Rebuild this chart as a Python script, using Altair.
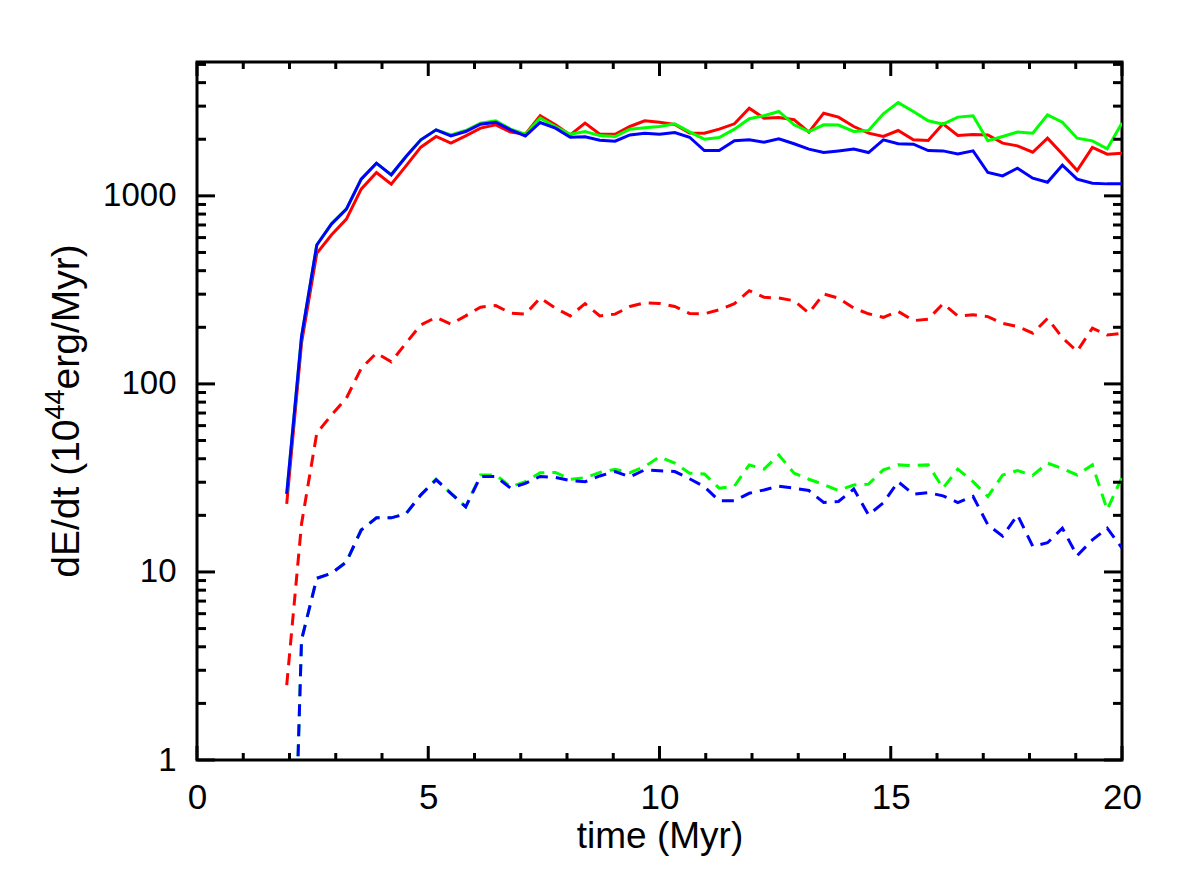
import altair as alt
import pandas as pd

# Simulation output times (Myr)
time_myr = [1.94, 2.26, 2.59, 2.91, 3.23, 3.55, 3.88, 4.20, 4.52, 4.84,
            5.17, 5.49, 5.81, 6.13, 6.46, 6.78, 7.10, 7.42, 7.75, 8.07,
            8.39, 8.71, 9.04, 9.36, 9.68, 10.00, 10.33, 10.65, 10.97, 11.29,
            11.62, 11.94, 12.26, 12.58, 12.91, 13.23, 13.55, 13.87, 14.20, 14.52,
            14.84, 15.16, 15.49, 15.81, 16.13, 16.45, 16.78, 17.10, 17.42, 17.74,
            18.07, 18.39, 18.71, 19.03, 19.36, 19.68, 20.00]

# Energy injection rates, dE/dt in 1e44 erg/Myr
red_solid = [23, 165, 495, 621, 752, 1086, 1331, 1154, 1444, 1815,
             2069, 1907, 2084, 2291, 2387, 2183, 2127, 2665, 2387, 2109,
             2437, 2127, 2127, 2338, 2506, 2464, 2395, 2160, 2154, 2263,
             2416, 2926, 2589, 2610, 2538, 2183, 2752, 2623, 2338, 2154,
             2069, 2225, 1986, 1969, 2416, 2095, 2120, 2109, 1907, 1845,
             1706, 2027, 1671, 1364, 1808, 1666, 1686]
green_solid = [26, 178, 548, 710, 850, 1227, 1492, 1294, 1618, 1986,
               2244, 2109, 2225, 2437, 2506, 2263, 2127, 2589, 2338, 2127,
               2199, 2092, 2069, 2263, 2301, 2338, 2416, 2190, 2001, 2042,
               2263, 2570, 2665, 2811, 2387, 2199, 2387, 2378, 2199, 2225,
               2730, 3133, 2811, 2506, 2405, 2623, 2665, 1962, 2069, 2183,
               2154, 2698, 2464, 2027, 1962, 1778, 2437]
blue_solid = [26, 178, 548, 710, 850, 1227, 1492, 1294, 1618, 1986,
              2244, 2084, 2199, 2405, 2464, 2244, 2084, 2455, 2291, 2051,
              2060, 1977, 1953, 2109, 2154, 2127, 2173, 2050, 1742, 1742,
              1962, 1986, 1930, 2010, 1892, 1772, 1699, 1734, 1772, 1699,
              1986, 1892, 1884, 1742, 1734, 1671, 1734, 1331, 1277, 1403,
              1242, 1182, 1455, 1227, 1167, 1158, 1158]
red_dashed = [2.5, 18, 54.7, 68.4, 84, 121, 146, 131, 165, 206,
              226, 208, 230, 256, 261, 238, 235, 286, 253, 230,
              267, 230, 235, 258, 270, 268, 258, 237, 236, 248,
              267, 313, 289, 286, 277, 238, 301, 286, 253, 236,
              226, 243, 217, 221, 267, 230, 233, 228, 210, 202,
              186, 223, 176, 149, 198, 182, 186]
green_dashed = [0.01, 4.35, 9.25, 9.84, 11.3, 16.7, 19.4, 19.4, 20.4, 25.7,
                31.2, 26.2, 22.2, 32.8, 32.8, 28.4, 30.2, 33.7, 33.8, 31.1,
                31.7, 33.8, 35.2, 33.7, 36.3, 41.0, 37.9, 33.5, 33.2, 27.9,
                28.6, 37.1, 35.2, 41.9, 33.5, 31.1, 29.2, 27.1, 29.0, 29.3,
                34.9, 37.1, 36.8, 37.1, 27.9, 35.2, 30.2, 25.2, 32.8, 34.6,
                32.6, 37.9, 35.5, 32.8, 37.1, 21.4, 31.9]
blue_dashed = [0.01, 4.35, 9.25, 9.84, 11.3, 16.7, 19.4, 19.4, 20.4, 25.7,
               30.9, 26.2, 22.2, 32.2, 32.2, 27.9, 29.6, 32.2, 31.8, 30.6,
               30.2, 32.4, 34.2, 32.0, 34.9, 34.5, 34.2, 31.3, 28.4, 23.9,
               23.9, 26.2, 27.3, 28.6, 27.9, 27.1, 23.4, 23.7, 27.6, 20.1,
               23.3, 30.2, 25.9, 26.4, 25.4, 23.4, 25.2, 17.8, 15.5, 20.1,
               13.7, 14.3, 17.1, 12.2, 14.8, 17.1, 13.4]

# Tick positions
x_major = [0, 5, 10, 15, 20]
x_minor = [1, 2, 3, 4, 6, 7, 8, 9, 11, 12, 13, 14, 16, 17, 18, 19]
y_major = [1, 10, 100, 1000]
y_minor = [2, 3, 4, 5, 6, 7, 8, 9,
           20, 30, 40, 50, 60, 70, 80, 90,
           200, 300, 400, 500, 600, 700, 800, 900,
           2000, 3000, 4000, 5000]

# y-axis title pieces: main text, superscript exponent, main text
title_head = "dE/dt (10"
title_exp = "44"
title_tail = "erg/Myr)"

DASH = [12, 8]
series = [
    ("red_solid", red_solid, "#ff0000", None),
    ("green_solid", green_solid, "#00ff00", None),
    ("blue_solid", blue_solid, "#0000ff", None),
    ("red_dashed", red_dashed, "#ff0000", DASH),
    ("green_dashed", green_dashed, "#00ff00", DASH),
    ("blue_dashed", blue_dashed, "#0000ff", DASH),
]

rows = []
for name, vals, _, _ in series:
    for t, v in zip(time_myr, vals):
        rows.append({"time": t, "dEdt": v, "series": name})
df = pd.DataFrame(rows)

W, H = 925, 698
FONT = "Liberation Sans"

xscale = alt.Scale(domain=[0, 20], nice=False, zero=False)
yscale = alt.Scale(type="log", domain=[1, 5150], nice=False)

x_axis = alt.Axis(values=x_major, format="d", grid=False, domain=False,
                  ticks=False, tickSize=0, labelFlush=False, labelFont=FONT,
                  labelFontSize=35, labelPadding=20, labelColor="black",
                  title="time (Myr)", titleFont=FONT, titleFontSize=37,
                  titleFontWeight="normal", titleColor="black",
                  titleX=W / 2, titleY=76, titleBaseline="middle",
                  titleAlign="center")
y_axis = alt.Axis(values=y_major, format="d", grid=False, domain=False,
                  ticks=False, tickSize=0, labelFlush=False, labelFont=FONT,
                  labelFontSize=33, labelPadding=21, labelColor="black",
                  title="")

X = alt.X("time:Q", scale=xscale, axis=x_axis)
Y = alt.Y("dEdt:Q", scale=yscale, axis=y_axis)

layers = []
for name, _, color, dash in series:
    kw = dict(color=color, strokeWidth=3, clip=True)
    if dash:
        kw["strokeDash"] = dash
    layers.append(
        alt.Chart(df).transform_filter(alt.datum.series == name)
        .mark_line(**kw).encode(x=X, y=Y)
    )

# Inward-pointing ticks on all four sides of the frame
def xticks(vals, length):
    d = pd.DataFrame({"time": vals})
    base = alt.Chart(d).mark_rule(color="black", strokeWidth=3)
    return [
        base.encode(x=X, y=alt.value(H), y2=alt.value(H - length)),
        base.encode(x=X, y=alt.value(0), y2=alt.value(length)),
    ]

def yticks(vals, length):
    d = pd.DataFrame({"dEdt": vals})
    base = alt.Chart(d).mark_rule(color="black", strokeWidth=3)
    return [
        base.encode(y=Y, x=alt.value(0), x2=alt.value(length)),
        base.encode(y=Y, x=alt.value(W), x2=alt.value(W - length)),
    ]

ticks = (xticks(x_major, 14) + xticks(x_minor, 7)
         + yticks(y_major, 18) + yticks(y_minor, 9))

# Rotated y-axis title with a raised exponent (Arial/Liberation metrics)
F_MAIN, F_EXP = 39, 27
w_head = 4.058 * F_MAIN
w_exp = 1.112 * F_EXP
w_tail = 3.722 * F_MAIN
start = H / 2 + (w_head + w_exp + w_tail) / 2
base_x = -118
one = pd.DataFrame({"k": [0]})

def title_piece(text, size, x, y):
    return alt.Chart(one).mark_text(
        text=text, font=FONT, fontSize=size, angle=270, align="left",
        baseline="alphabetic", color="black"
    ).encode(x=alt.value(x), y=alt.value(y))

title_layers = [
    title_piece(title_head, F_MAIN, base_x, start),
    title_piece(title_exp, F_EXP, base_x - 15, start - w_head),
    title_piece(title_tail, F_MAIN, base_x, start - w_head - w_exp),
]

chart = (
    alt.layer(*layers, *ticks, *title_layers)
    .properties(width=W, height=H, background="white",
                autosize=alt.AutoSizeParams(type="none"),
                padding={"left": 197, "top": 62, "right": 58, "bottom": 126})
    .configure_view(stroke="black", strokeWidth=3)
)

chart.save("out.html", embed_options={"renderer": "svg", "actions": False})
